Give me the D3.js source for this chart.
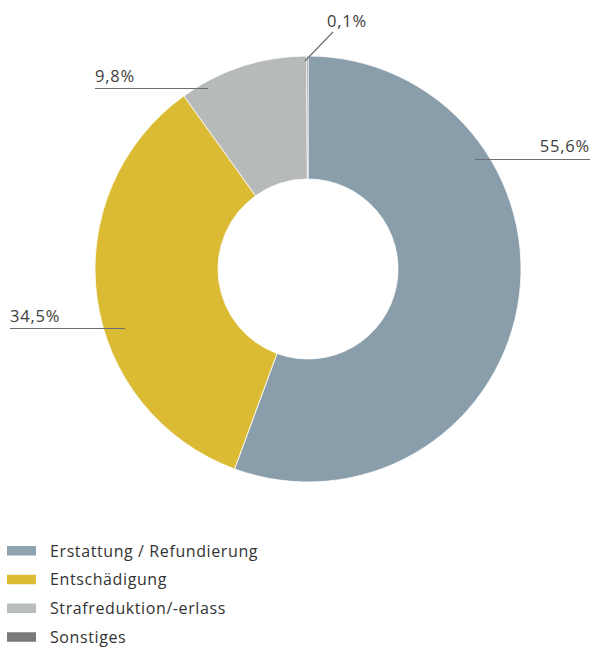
<!DOCTYPE html>
<html>
<head>
<meta charset="utf-8">
<script src="https://cdn.jsdelivr.net/npm/d3@7"></script>
<style>
  html, body { margin: 0; padding: 0; background: #fff; }
  svg { display: block; font-family: "Open Sans", Lato, sans-serif; }
</style>
</head>
<body>
<svg id="chart" width="593" height="647"></svg>
<script>
// Anteile nach Art der Leistung (in %)
const categories = ["Erstattung / Refundierung", "Entschädigung", "Strafreduktion/-erlass", "Sonstiges"];
const values = [55.6, 34.5, 9.8, 0.1];
const valueLabels = ["55,6%", "34,5%", "9,8%", "0,1%"];
const colors = ["#8a9dab", "#dbbb33", "#b6bab9", "#6f7372"];
const legendColors = ["#8fa2b0", "#dcbc35", "#b9bdbc", "#777a79"];

const svg = d3.select("#chart");
const cx = 308, cy = 269;
const outerR = 213, innerR = 90;

const pie = d3.pie().sort(null).value(d => d).startAngle(0).endAngle(2 * Math.PI);
const arcs = pie(values);
const arc = d3.arc().innerRadius(innerR).outerRadius(outerR);

const g = svg.append("g").attr("transform", `translate(${cx},${cy})`);
g.selectAll("path.slice")
  .data(arcs)
  .join("path")
  .attr("class", "slice")
  .attr("d", arc)
  .attr("fill", (d, i) => colors[i])
  .attr("stroke", "#fff")
  .attr("stroke-width", 0.8);

// Callout layout per slice: text anchor point, leader line segment
const callouts = [
  { tx: 590, ty: 152, anchor: "end",   line: [[475, 159.5], [590, 159.5]] },
  { tx: 10,  ty: 322, anchor: "start", line: [[10, 328.5], [125, 328.5]] },
  { tx: 95,  ty: 82,  anchor: "start", line: [[95, 88.5], [208, 88.5]] },
  { tx: 327, ty: 27,  anchor: "start", line: [[305, 61], [333, 32]] }
];

const lab = svg.append("g");
lab.selectAll("path.leader")
  .data(callouts)
  .join("path")
  .attr("class", "leader")
  .attr("d", c => d3.line()(c.line))
  .attr("stroke", "#6b6e72")
  .attr("stroke-width", 1.2)
  .attr("fill", "none");

lab.selectAll("text.val")
  .data(callouts)
  .join("text")
  .attr("class", "val")
  .attr("x", c => c.tx)
  .attr("y", c => c.ty)
  .attr("text-anchor", c => c.anchor)
  .attr("font-size", 16.5)
  .attr("letter-spacing", 0.8)
  .attr("fill", "#404040")
  .text((c, i) => valueLabels[i]);

// Legend
const legendY = d3.scaleBand().domain(categories).range([542, 657]).paddingInner(0);
const legend = svg.append("g");
const rows = legend.selectAll("g.row")
  .data(categories)
  .join("g")
  .attr("class", "row")
  .attr("transform", d => `translate(0,${legendY(d)})`);
rows.append("rect")
  .attr("x", 7).attr("y", 4)
  .attr("width", 29).attr("height", 9.5)
  .attr("fill", (d, i) => legendColors[i]);
rows.append("text")
  .attr("x", 50).attr("y", 14.5)
  .attr("font-size", 16)
  .attr("letter-spacing", 0.6)
  .attr("fill", "#333")
  .text(d => d);
</script>
</body>
</html>
